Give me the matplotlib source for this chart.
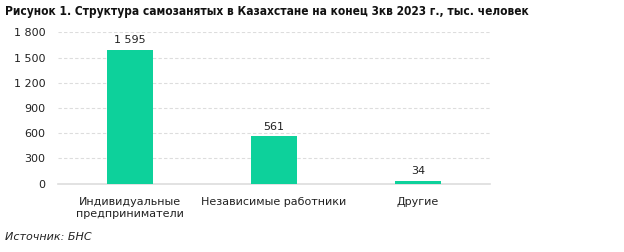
import matplotlib
matplotlib.use("Agg")
import matplotlib.pyplot as plt
from matplotlib import font_manager as fm

categories = ["Индивидуальные\nпредприниматели", "Независимые работники", "Другие"]
values = [1595, 561, 34]
value_labels = ["1 595", "561", "34"]
yticks = [0, 300, 600, 900, 1200, 1500, 1800]
ytick_labels = ["0", "300", "600", "900", "1 200", "1 500", "1 800"]
title = "Рисунок 1. Структура самозанятых в Казахстане на конец 3кв 2023 г., тыс. человек"
source = "Источник: БНС"

plt.rcParams['font.family'] = ['DejaVu Sans']
fig = plt.figure(figsize=(6.24, 2.52), dpi=100)
W, H = 624, 252
ax = fig.add_axes([58 / W, 1 - 183.5 / H, 432 / W, 151.2 / H])

x = range(len(categories))
ax.bar(x, values, width=0.32, color="#0DD19B", zorder=3)
for xi, v, lab in zip(x, values, value_labels):
    ax.annotate(lab, (xi, v), xytext=(0, 3), textcoords="offset points",
                ha="center", va="bottom", fontsize=8, color="#222222")

ax.set_xlim(-0.5, 2.5)
ax.set_ylim(0, 1800)
ax.set_yticks(yticks)
ax.set_yticklabels(ytick_labels)
ax.set_xticks(list(x))
ax.set_xticklabels(categories, linespacing=1.15)
ax.tick_params(axis="both", length=0, labelsize=8, colors="#222222")
ax.tick_params(axis="y", pad=9)
ax.tick_params(axis="x", pad=10)
ax.grid(axis="y", color="#dddddd", linestyle=(0, (3, 2)), linewidth=0.8, zorder=0)
ax.grid(axis="x", visible=False)
for s in ["top", "right", "left"]:
    ax.spines[s].set_visible(False)
ax.spines["bottom"].set_color("#dddddd")
ax.spines["bottom"].set_linewidth(1.2)

names = {f.name for f in fm.fontManager.ttflist}
tfam = "DejaVu Sans"
tstretch = "normal"
for cand in ["Liberation Sans Narrow", "DejaVu Sans Condensed"]:
    if cand in names:
        tfam = cand
        break
else:
    tstretch = "condensed"

t = fig.text(5 / W, 1 - 12 / H, title, fontsize=10, fontweight="bold", va="center",
             ha="left", color="#111111", family=tfam, stretch=tstretch)
fig.canvas.draw()
r = fig.canvas.get_renderer()
w = t.get_window_extent(r).width
t.set_fontsize(10 * 518 / w)

fig.text(5 / W, 1 - 237 / H, source, fontsize=8, style="italic", va="center", ha="left", color="#222222")

fig.savefig("out.png", dpi=100)
